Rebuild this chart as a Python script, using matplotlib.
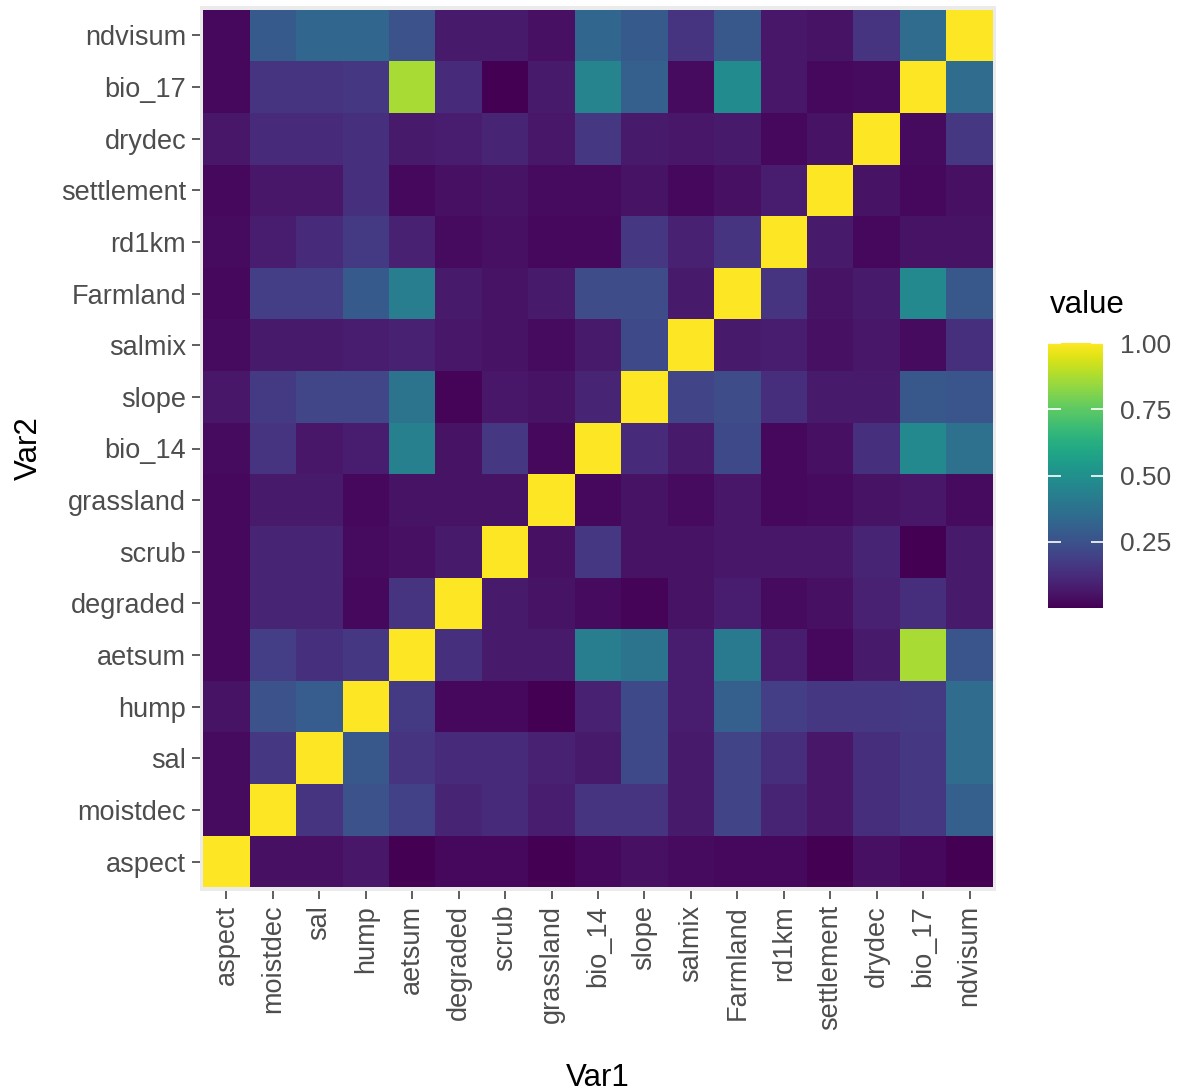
import numpy as np
import matplotlib
matplotlib.use("Agg")
import matplotlib.pyplot as plt

plt.rcParams['font.family'] = ['Liberation Sans', 'DejaVu Sans']

var_names = ["aspect", "moistdec", "sal", "hump", "aetsum", "degraded", "scrub",
             "grassland", "bio_14", "slope", "salmix", "Farmland", "rd1km",
             "settlement", "drydec", "bio_17", "ndvisum"]

# one row per Var2 (same order as var_names), columns = Var1
row_aspect     = [1.00, 0.04, 0.04, 0.06, 0.00, 0.02, 0.02, 0.00, 0.02, 0.04, 0.03, 0.02, 0.02, 0.00, 0.04, 0.02, 0.00]
row_moistdec   = [0.03, 1.00, 0.15, 0.25, 0.19, 0.10, 0.12, 0.08, 0.15, 0.15, 0.07, 0.20, 0.10, 0.06, 0.13, 0.16, 0.30]
row_sal        = [0.03, 0.16, 1.00, 0.27, 0.15, 0.12, 0.12, 0.09, 0.07, 0.22, 0.07, 0.20, 0.13, 0.06, 0.13, 0.16, 0.35]
row_hump       = [0.05, 0.25, 0.29, 1.00, 0.17, 0.02, 0.02, 0.00, 0.09, 0.22, 0.08, 0.30, 0.18, 0.16, 0.16, 0.17, 0.35]
row_aetsum     = [0.02, 0.18, 0.14, 0.16, 1.00, 0.14, 0.07, 0.07, 0.42, 0.38, 0.08, 0.41, 0.08, 0.02, 0.07, 0.87, 0.26]
row_degraded   = [0.02, 0.10, 0.10, 0.02, 0.15, 1.00, 0.07, 0.05, 0.03, 0.01, 0.05, 0.08, 0.03, 0.04, 0.09, 0.13, 0.07]
row_scrub      = [0.02, 0.10, 0.10, 0.03, 0.04, 0.07, 1.00, 0.04, 0.16, 0.05, 0.05, 0.06, 0.06, 0.06, 0.10, 0.00, 0.07]
row_grassland  = [0.02, 0.07, 0.07, 0.02, 0.05, 0.05, 0.05, 1.00, 0.02, 0.05, 0.03, 0.06, 0.02, 0.03, 0.05, 0.06, 0.03]
row_bio_14     = [0.03, 0.15, 0.06, 0.08, 0.43, 0.05, 0.16, 0.02, 1.00, 0.12, 0.07, 0.22, 0.02, 0.04, 0.14, 0.47, 0.37]
row_slope      = [0.06, 0.17, 0.21, 0.21, 0.38, 0.01, 0.06, 0.05, 0.10, 1.00, 0.20, 0.23, 0.13, 0.07, 0.07, 0.27, 0.26]
row_salmix     = [0.03, 0.07, 0.07, 0.08, 0.09, 0.06, 0.05, 0.03, 0.07, 0.22, 1.00, 0.07, 0.08, 0.04, 0.06, 0.03, 0.14]
row_Farmland   = [0.02, 0.18, 0.18, 0.28, 0.42, 0.07, 0.05, 0.07, 0.23, 0.23, 0.07, 1.00, 0.15, 0.05, 0.07, 0.47, 0.27]
row_rd1km      = [0.03, 0.08, 0.12, 0.17, 0.09, 0.03, 0.04, 0.02, 0.02, 0.16, 0.09, 0.15, 1.00, 0.07, 0.02, 0.05, 0.05]
row_settlement = [0.02, 0.06, 0.06, 0.14, 0.02, 0.04, 0.05, 0.03, 0.03, 0.05, 0.02, 0.04, 0.08, 1.00, 0.05, 0.02, 0.04]
row_drydec     = [0.06, 0.12, 0.12, 0.14, 0.07, 0.08, 0.10, 0.06, 0.16, 0.07, 0.06, 0.07, 0.02, 0.05, 1.00, 0.03, 0.16]
row_bio_17     = [0.02, 0.15, 0.15, 0.16, 0.87, 0.12, 0.00, 0.07, 0.45, 0.30, 0.03, 0.48, 0.06, 0.02, 0.03, 1.00, 0.35]
row_ndvisum    = [0.02, 0.28, 0.33, 0.33, 0.25, 0.07, 0.07, 0.04, 0.33, 0.28, 0.15, 0.27, 0.06, 0.05, 0.15, 0.35, 1.00]

cbar_ticks = [0.25, 0.50, 0.75, 1.00]

matrix = np.array([row_aspect, row_moistdec, row_sal, row_hump, row_aetsum, row_degraded,
                   row_scrub, row_grassland, row_bio_14, row_slope, row_salmix, row_Farmland,
                   row_rd1km, row_settlement, row_drydec, row_bio_17, row_ndvisum])

W, H = 1181, 1092
fig = plt.figure(figsize=(W / 100, H / 100), dpi=100)
fig.patch.set_facecolor('white')

def px_axes(x0, y0, x1, y1):
    return [x0 / W, 1 - y1 / H, (x1 - x0) / W, (y1 - y0) / H]

ax = fig.add_axes(px_axes(200, 6, 996, 891))
ax.set_facecolor('#EBEBEB')
n = len(var_names)
edges = np.arange(n + 1) - 0.5
mesh = ax.pcolormesh(edges, edges, matrix, cmap='viridis', vmin=0, vmax=1)
ax.set_xlim(-0.57, n - 0.43)
ax.set_ylim(-0.57, n - 0.43)
for s in ax.spines.values():
    s.set_visible(False)

ax.set_xticks(np.arange(n))
ax.set_yticks(np.arange(n))
ax.set_xticklabels(var_names, rotation=90, ha='center', va='top')
ax.set_yticklabels(var_names)
ax.tick_params(axis='both', colors='#333333', labelcolor='#4D4D4D', length=6, width=1.1,
               labelsize=19.5, pad=4)
ax.set_xlabel('Var1', fontsize=22.5, color='black', labelpad=24)
ax.set_ylabel('Var2', fontsize=22.5, color='black', labelpad=12)

cax = fig.add_axes(px_axes(1048, 338, 1103, 613))
cb = fig.colorbar(mesh, cax=cax, ticks=cbar_ticks)
cb.outline.set_visible(False)
cax.yaxis.set_ticks_position('both')
cax.tick_params(axis='y', direction='in', color='white', length=9, width=1.2,
                labelcolor='#4D4D4D', labelsize=19, pad=12)
cax.tick_params(axis='y', which='both', labelleft=False, labelright=True)
cax.set_yticklabels(['0.25', '0.50', '0.75', '1.00'])
cax.set_ylim(-0.02, 1.02)
fig.text(1050 / W, 1 - 305 / H, 'value', fontsize=22.5, color='black', ha='left', va='center')

fig.savefig('out.png', dpi=100)
